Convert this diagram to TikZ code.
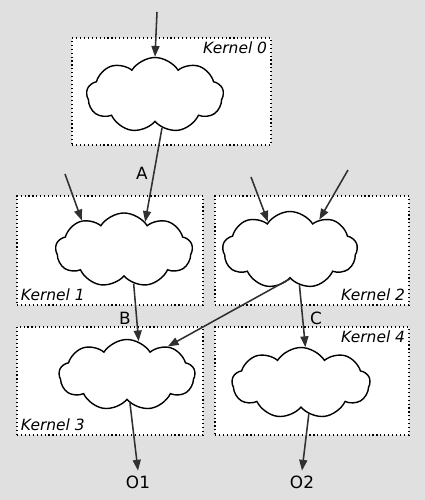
\documentclass[tikz,border=0pt]{standalone}
\usepackage{fontspec}
\setmainfont{DejaVu Sans}
\usepackage{tikz}
\usetikzlibrary{shapes.symbols,arrows.meta}
\definecolor{bggray}{HTML}{E0E0E0}
\definecolor{arrgray}{HTML}{303030}

\begin{document}
\begin{tikzpicture}[
  kernelbox/.style={draw, dotted, thick, fill=white, rectangle, inner sep=0pt},
  kcloud/.style={draw, cloud, cloud puffs=9, cloud puff arc=115, cloud ignores aspect,
    fill=white, line width=1pt, inner sep=0pt},
  klabel/.style={font=\fontsize{11}{13}\selectfont\itshape, inner sep=3pt},
  flow/.style={draw=arrgray, line width=1.1pt, -{Triangle[length=2.7mm,width=2mm]}},
  tag/.style={font=\fontsize{12}{14}\selectfont}
]
\fill[bggray] (0,0) rectangle (10.625,12.5);
\node [kernelbox, minimum width=4.975cm, minimum height=2.675cm] (k0) at (4.2875,10.2125) {};
\node [kernelbox, minimum width=4.65cm, minimum height=2.725cm] (k1) at (2.75,6.2375) {};
\node [kernelbox, minimum width=4.85cm, minimum height=2.725cm] (k2) at (7.8,6.2375) {};
\node [kernelbox, minimum width=4.65cm, minimum height=2.7cm] (k3) at (2.75,2.975) {};
\node [kernelbox, minimum width=4.85cm, minimum height=2.7cm] (k4) at (7.8,2.975) {};
\node [klabel, anchor=north east] at (k0.north east) {Kernel 0};
\node [klabel, anchor=south west] at (k1.south west) {Kernel 1};
\node [klabel, anchor=south east] at (k2.south east) {Kernel 2};
\node [klabel, anchor=south west] at (k3.south west) {Kernel 3};
\node [klabel, anchor=north east] at (k4.north east) {Kernel 4};
\node [kcloud, minimum width=3.425cm, minimum height=1.875cm] (c0) at (3.875,10.125) {};
\node [kcloud, minimum width=3.425cm, minimum height=1.85cm] (c1) at (3.1,6.25) {};
\node [kcloud, minimum width=3.375cm, minimum height=1.925cm] (c2) at (7.25,6.25) {};
\node [kcloud, minimum width=3.4cm, minimum height=1.775cm] (c3) at (3.175,3.125) {};
\node [kcloud, minimum width=3.45cm, minimum height=1.775cm] (c4) at (7.525,2.925) {};
\coordinate (in0) at (3.925,12.2);
\coordinate (in1) at (1.625,8.15);
\coordinate (in2a) at (6.275,8.075);
\coordinate (in2b) at (8.7,8.25);
\node [tag] (o1) at (3.45,0.45) {O1};
\node [tag] (o2) at (7.55,0.45) {O2};
\node [tag] at (3.55,8.175) {A};
\node [tag] at (3.125,4.55) {B};
\node [tag] at (7.9,4.55) {C};
\draw [flow] (in0) -- (c0.north);
\draw [flow] (c0.-78) -- (c1.53);
\draw [flow] (in1) -- (c1.145);
\draw [flow] (in2a) -- (c2.128);
\draw [flow] (in2b) -- (c2.46);
\draw [flow] (c1.-74) -- (c3.71);
\draw [flow] (c2.south) -- (c3.35);
\draw [flow] (c2.-75) -- (c4.83);
\draw [flow] (c3.-84) -- (o1.north);
\draw [flow] (c4.-76) -- (o2.north);
\end{tikzpicture}
\end{document}
